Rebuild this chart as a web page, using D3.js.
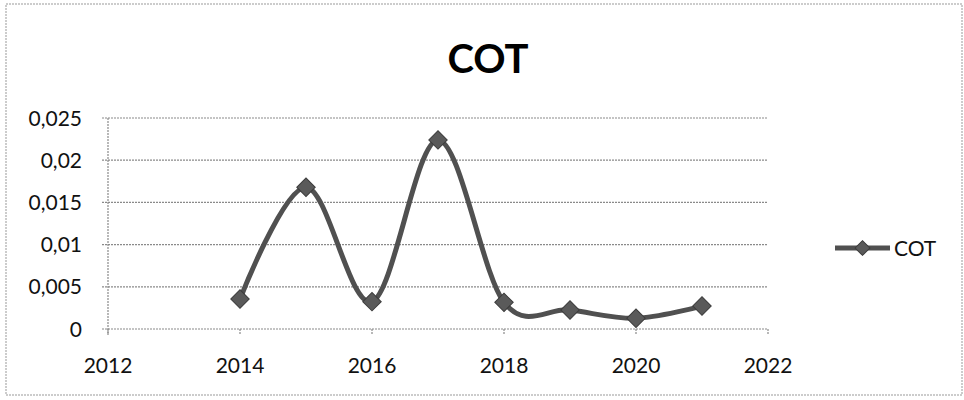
<!DOCTYPE html>
<html>
<head>
<meta charset="utf-8">
<script src="https://cdn.jsdelivr.net/npm/d3@7"></script>
<style>
  body { margin: 0; background: #fff; }
  svg { font-family: Lato, "Open Sans", sans-serif; }
  .tick-label { font-size: 21px; fill: #111; }
  .grid { stroke: #8a8a8a; stroke-width: 1.2; stroke-dasharray: 2,1; }
  .series { fill: none; stroke: #505050; stroke-width: 5; }
  .marker { fill: #5a5a5a; stroke: #3c3c3c; stroke-width: 1; }
</style>
</head>
<body>
<svg id="chart" width="964" height="400"></svg>
<script>
var years = [2014, 2015, 2016, 2017, 2018, 2019, 2020, 2021];
var cot = [0.00355, 0.0168, 0.00324, 0.0224, 0.00316, 0.00225, 0.00127, 0.00272];
var xTicks = [2012, 2014, 2016, 2018, 2020, 2022];
var yTicks = [0, 0.005, 0.01, 0.015, 0.02, 0.025];
var seriesName = 'COT';

var plot = {left: 108, right: 768, top: 118, bottom: 329};

var svg = d3.select('#chart');

// outer frame
svg.append('rect')
  .attr('x', 6).attr('y', 4)
  .attr('width', 956).attr('height', 391)
  .attr('fill', 'none')
  .attr('stroke', '#999')
  .attr('stroke-dasharray', '2,1');

var x = d3.scaleLinear().domain([2012, 2022]).range([plot.left, plot.right]);
var y = d3.scaleLinear().domain([0, 0.025]).range([plot.bottom, plot.top]);

// horizontal gridlines + y labels
svg.selectAll('.grid-h')
  .data(yTicks)
  .enter().append('line')
  .attr('class', 'grid')
  .attr('x1', plot.left - 6).attr('x2', plot.right)
  .attr('y1', d => y(d)).attr('y2', d => y(d));

svg.selectAll('.ylab')
  .data(yTicks)
  .enter().append('text')
  .attr('class', 'tick-label')
  .attr('x', 82)
  .attr('y', d => y(d))
  .attr('dy', '0.36em')
  .attr('text-anchor', 'end')
  .text(d => String(d).replace('.', ','));

// vertical axis line
svg.append('line')
  .attr('class', 'grid')
  .attr('x1', plot.left).attr('x2', plot.left)
  .attr('y1', plot.top).attr('y2', plot.bottom + 6);

// x ticks + labels
svg.selectAll('.xtick')
  .data(xTicks)
  .enter().append('line')
  .attr('class', 'grid')
  .attr('x1', d => x(d)).attr('x2', d => x(d))
  .attr('y1', plot.bottom).attr('y2', plot.bottom + 6);

svg.selectAll('.xlab')
  .data(xTicks)
  .enter().append('text')
  .attr('class', 'tick-label')
  .attr('x', d => x(d))
  .attr('y', 373)
  .attr('text-anchor', 'middle')
  .text(d => d);

// smoothed line like Excel
var data = years.map((yr, i) => ({year: yr, value: cot[i]}));
var line = d3.line()
  .curve(d3.curveCardinal.tension(0))
  .x(d => x(d.year))
  .y(d => y(d.value));

svg.append('path')
  .datum(data)
  .attr('class', 'series')
  .attr('d', line);

var diamond = d3.symbol().type(d3.symbolSquare).size(170);
svg.selectAll('.marker')
  .data(data)
  .enter().append('path')
  .attr('class', 'marker')
  .attr('d', diamond)
  .attr('transform', d => `translate(${x(d.year)},${y(d.value)}) rotate(45)`)
  .attr('fill', (d, i) => i === 0 ? '#8a8a8a' : '#5a5a5a');

// title
svg.append('text')
  .attr('x', 488)
  .attr('y', 73)
  .attr('text-anchor', 'middle')
  .style('font-size', '40px')
  .style('font-weight', 'bold')
  .attr('fill', '#000')
  .text(seriesName);

// legend
var legend = svg.append('g').attr('transform', 'translate(835, 248)');
legend.append('line')
  .attr('x1', 0).attr('x2', 55)
  .attr('stroke', '#505050').attr('stroke-width', 5);
legend.append('path')
  .attr('class', 'marker')
  .attr('d', d3.symbol().type(d3.symbolSquare).size(110))
  .attr('transform', 'translate(27.5,0) rotate(45)');
legend.append('text')
  .attr('class', 'tick-label')
  .attr('x', 59)
  .attr('dy', '0.36em')
  .text(seriesName);
</script>
</body>
</html>
